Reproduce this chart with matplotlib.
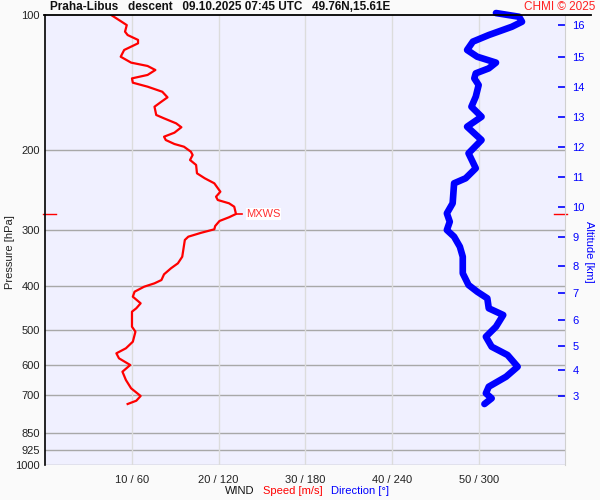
import numpy as np
import matplotlib
matplotlib.use("Agg")
import matplotlib.pyplot as plt
from matplotlib.lines import Line2D
import matplotlib.transforms as mtransforms

plt.rcParams['font.family'] = ['Liberation Sans', 'DejaVu Sans']

# wind speed profile [hPa, m/s]
speed_p = [100.0, 102.6, 105.3, 108.9, 110.8, 113.6, 115.6, 119.6, 123.8, 127.6,
           129.8, 132.5, 135.9, 138.3, 141.4, 144.3, 148.1, 152.4, 155.8, 159.9,
           166.8, 169.7, 174.1, 177.6, 182.6, 186.4, 189.6, 193.5, 196.2, 201.3,
           204.7, 210.0, 215.4, 224.8, 230.6, 236.6, 247.0, 253.4, 257.7, 262.1,
           266.7, 276.8, 281.5, 286.9, 294.4, 299.4, 304.7, 310.9, 316.2, 344.5,
           356.3, 365.5, 376.9, 388.1, 394.7, 401.6, 412.0, 422.7, 437.2, 448.5,
           456.4, 492.8, 505.6, 532.1, 550.4, 564.7, 579.3, 599.5, 620.4, 647.3,
           675.4, 702.5, 719.7, 731.9]
speed = [7.6, 8.5, 9.4, 9.2, 9.5, 10.7, 10.7, 9.1, 8.7, 9.9,
         11.8, 12.7, 11.8, 10.0, 10.1, 11.8, 13.5, 14.1, 13.4, 12.6,
         12.8, 13.7, 15.1, 15.7, 14.9, 13.7, 13.9, 14.9, 16.0, 16.8,
         17.0, 16.7, 17.4, 17.5, 18.4, 19.5, 20.2, 19.7, 19.9, 21.2,
         21.8, 22.0, 21.2, 20.1, 19.6, 19.5, 18.0, 16.5, 16.1, 15.8,
         15.3, 14.5, 13.7, 13.4, 12.6, 11.4, 10.3, 10.1, 11.0, 10.5,
         10.0, 10.0, 10.4, 10.1, 9.3, 8.2, 8.5, 9.8, 8.9, 9.3,
         9.9, 11.0, 10.5, 9.5]

# wind direction profile [hPa, deg]
dir_p = [99.0, 100.9, 103.5, 106.2, 110.8, 114.6, 119.6, 123.8, 127.6, 131.4,
         134.8, 138.3, 143.1, 151.9, 159.9, 168.3, 177.1, 189.6, 202.9, 219.1,
         230.6, 236.6, 262.1, 275.9, 288.0, 300.5, 310.9, 327.3, 344.5, 375.0,
         398.1, 412.0, 426.2, 448.5, 464.2, 492.8, 518.7, 545.9, 569.6, 604.7,
         636.5, 669.9, 692.9, 710.9, 731.9]
direction = [312, 328, 330, 323, 307, 296, 292, 299, 312, 307,
             298, 297, 300, 298, 295, 302, 292, 302, 293, 298,
             291, 283, 282, 278, 280, 278, 283, 287, 289, 289,
             293, 299, 306, 307, 317, 312, 305, 309, 320, 327,
             319, 307, 305, 309, 304]

p_ticks = [100, 200, 300, 400, 500, 600, 700, 850, 925, 1000]
x_ticks = [10, 20, 30, 40, 50]
x_labels = ['10 / 60', '20 / 120', '30 / 180', '40 / 240', '50 / 300']

# altitude [km] and the pressure where it is reached
alt_km = [16, 15, 14, 13, 12, 11, 10, 9, 8, 7, 6, 5, 4, 3]
alt_p = [105.2, 123.8, 144.8, 168.3, 196.2, 229.5, 267.5, 311.9, 360.6,
         414.1, 476.2, 543.8, 615.0, 701.5]

DEG_PER_MS = 6.0  # one x unit is 1 m/s or 6 degrees

fig = plt.figure(figsize=(6, 5), dpi=100, facecolor='#fafafa')
ax = fig.add_axes([0.0755, 0.07, 0.8667, 0.9])
ax.set_facecolor('#f0f0ff')
ax.set_yscale('log')
ax.set_ylim(1000, 100)
ax.set_xlim(0, 60)
ax.set_yticks(p_ticks)
ax.set_yticklabels([str(p) for p in p_ticks])
ax.minorticks_off()
ax.set_xticks(x_ticks)
ax.set_xticklabels(x_labels)
ax.tick_params(axis='both', length=0, labelsize=8, colors='#222222')
ax.tick_params(axis='y', pad=4)
ax.tick_params(axis='x', pad=7)

for p in p_ticks[1:]:
    ax.axhline(p, color='#a8a8a8', lw=1, zorder=1)
for x in x_ticks:
    ax.axvline(x, color='#dcdcdc', lw=1, zorder=1)

for side in ['top', 'right', 'bottom']:
    ax.spines[side].set_visible(False)
ax.spines['left'].set_color('black')
ax.spines['left'].set_linewidth(1.2)

dir_x = np.array(direction) / DEG_PER_MS
ax.plot(dir_x, dir_p, color='#0000ff', lw=4.8, solid_capstyle='round',
        solid_joinstyle='round', zorder=3, clip_on=False)
ax.plot(speed, speed_p, color='#ff0000', lw=1.6, zorder=4)

# max wind marks
i_max = int(np.argmax(speed))
s_max, p_max = speed[i_max], speed_p[i_max]
trans = mtransforms.blended_transform_factory(ax.transAxes, ax.transData)
ax.plot([-0.005, 0.021], [p_max, p_max], color='red', lw=1, transform=trans, clip_on=False)
ax.plot([0.978, 1.004], [p_max, p_max], color='red', lw=1, transform=trans, clip_on=False)
ax.plot([s_max, s_max + 0.75], [p_max, p_max], color='red', lw=1.2, zorder=4)
ax.annotate('MXWS', xy=(s_max, p_max), xytext=(7.5, 0), textcoords='offset points',
            va='center', ha='left', color='#ff3030', fontsize=8,
            bbox=dict(facecolor='white', edgecolor='none', pad=0.5))

fig.text(0.017, 0.496, 'Pressure [hPa]', fontsize=8, color='#222222', rotation=90,
         ha='center', va='center')

ax2 = ax.twinx()
ax2.set_yscale('log')
ax2.set_ylim(1000, 100)
ax2.set_yticks(alt_p)
ax2.set_yticklabels([str(a) for a in alt_km])
ax2.minorticks_off()
ax2.tick_params(axis='y', direction='in', length=5, width=1.2, color='#0000ff',
                labelcolor='#0000ff', labelsize=8, pad=5)
for side in ['top', 'left', 'bottom']:
    ax2.spines[side].set_visible(False)
ax2.spines['right'].set_color('#d0d0d0')
fig.text(0.982, 0.496, 'Altitude [km]', fontsize=8, color='#0000ff', rotation=270,
         ha='center', va='center')

# top border
fig.add_artist(Line2D([0.074, 0.985], [0.97, 0.97], color='black', lw=1.3))

fig.text(0.083, 0.985, 'Praha-Libus   descent   09.10.2025 07:45 UTC   49.76N,15.61E',
         fontsize=8.5, fontweight='bold', va='center', ha='left', color='#111111')
fig.text(0.993, 0.985, 'CHMI \u00a9 2025', fontsize=8.5, color='#ff2020',
         va='center', ha='right')

fig.text(0.399, 0.018, 'WIND', fontsize=8, color='#111111', ha='center', va='center')
fig.text(0.488, 0.018, 'Speed [m/s]', fontsize=8, color='#ff0000', ha='center', va='center')
fig.text(0.6, 0.018, 'Direction [\u00b0]', fontsize=8, color='#0000ff', ha='center', va='center')

plt.savefig('out.png', dpi=100, facecolor=fig.get_facecolor())
